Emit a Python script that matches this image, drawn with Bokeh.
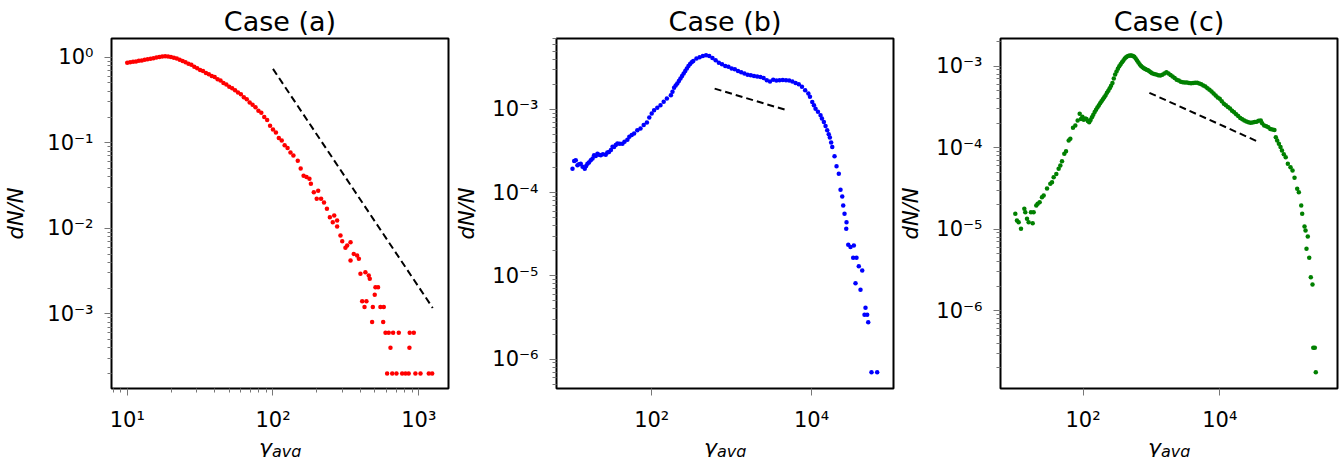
import numpy as np
from bokeh.plotting import figure
from bokeh.layouts import row, column
from bokeh.models import Range1d, FixedTicker, Label, CustomJSTickFormatter
from bokeh.embed import file_html
from bokeh.resources import INLINE

FONT = "DejaVu Sans"

# ---------------- data (stored as log10) ----------------
# Case (a)
a_log_gamma = [1.00, 1.02, 1.04, 1.06, 1.08, 1.10, 1.12, 1.14, 1.16, 1.18, 1.20, 1.22, 1.24, 1.26,
               1.28, 1.30, 1.32, 1.34, 1.36, 1.38, 1.40, 1.42, 1.44, 1.46, 1.48, 1.50, 1.52, 1.54,
               1.56, 1.58, 1.60, 1.62, 1.64, 1.66, 1.68, 1.70, 1.72, 1.74, 1.76, 1.78, 1.80, 1.82,
               1.84, 1.86, 1.88, 1.90, 1.92, 1.94, 1.96, 1.98, 2.00, 2.02, 2.04, 2.06, 2.08, 2.10,
               2.12, 2.14, 2.17, 2.19, 2.21, 2.23, 2.25, 2.26, 2.28, 2.30, 2.31, 2.33, 2.35, 2.37,
               2.39, 2.42, 2.44, 2.41, 2.44, 2.463, 2.475, 2.509, 2.532, 2.497, 2.532, 2.554, 2.577,
               2.589, 2.600, 2.634, 2.657, 2.664, 2.703, 2.721, 2.698, 2.612, 2.641, 2.628, 2.685,
               2.737, 2.760, 2.680, 2.756, 2.772, 2.794, 2.824, 2.863, 2.938, 2.966, 2.806, 2.936,
               2.783, 2.818, 2.847, 2.886, 2.909, 2.931, 2.977, 3.012, 3.069, 3.092]
a_log_dndn = [-0.065, -0.060, -0.052, -0.050, -0.040, -0.038, -0.028, -0.025, -0.018, -0.012, -0.004,
              0.003, 0.008, 0.012, 0.010, 0.004, -0.006, -0.016, -0.030, -0.045, -0.058, -0.075,
              -0.088, -0.110, -0.128, -0.150, -0.162, -0.185, -0.198, -0.220, -0.232, -0.258,
              -0.272, -0.300, -0.318, -0.345, -0.362, -0.385, -0.412, -0.432, -0.468, -0.490,
              -0.528, -0.555, -0.585, -0.625, -0.650, -0.700, -0.735, -0.800, -0.845, -0.880,
              -0.945, -0.975, -1.030, -1.060, -1.115, -1.150, -1.210, -1.300, -1.385, -1.400,
              -1.420, -1.480, -1.580, -1.656, -1.560, -1.656, -1.700, -1.773, -1.871, -1.851,
              -1.910, -1.930, -1.980, -2.085, -2.152, -2.202, -2.164, -2.229, -2.378, -2.300,
              -2.320, -2.358, -2.533, -2.515, -2.553, -2.590, -2.690, -2.690, -2.779, -2.854,
              -2.854, -2.921, -2.921, -2.921, -2.921, -3.097, -3.097, -3.222, -3.222, -3.222,
              -3.222, -3.222, -3.222, -3.398, -3.398, -3.699, -3.699, -3.699, -3.699, -3.699,
              -3.699, -3.699, -3.699, -3.699, -3.699]
a_fit_gamma = [100, 1247]
a_fit_dndn = [0.73, 1.17e-3]

# Case (b)
b_log_gamma = [1.009, 1.03, 1.05, 1.071, 1.09, 1.1125, 1.135, 1.1625, 1.18, 1.196, 1.215, 1.2375,
               1.26, 1.279, 1.30, 1.321, 1.34, 1.3625, 1.39, 1.425, 1.445, 1.466, 1.49, 1.51, 1.529,
               1.55, 1.571, 1.60, 1.634, 1.66, 1.696, 1.72, 1.75, 1.78, 1.82, 1.86, 1.90, 1.94,
               1.97, 2.00, 2.03, 2.07, 2.11, 2.15, 2.19, 2.24, 2.26, 2.28, 2.30, 2.32, 2.34, 2.36,
               2.38, 2.40, 2.42, 2.44, 2.46, 2.48, 2.50, 2.52, 2.56, 2.60, 2.64, 2.68, 2.72, 2.76,
               2.80, 2.84, 2.88, 2.92, 2.96, 3.00, 3.04, 3.08, 3.12, 3.16, 3.20, 3.24, 3.28, 3.32,
               3.36, 3.40, 3.44, 3.48, 3.52, 3.56, 3.60, 3.64, 3.68, 3.72, 3.76, 3.80, 3.84, 3.88,
               3.92, 3.96, 3.98, 4.009, 4.03, 4.05, 4.08, 4.1125, 4.13, 4.154, 4.175, 4.196, 4.215,
               4.229, 4.245, 4.259, 4.2875, 4.3125, 4.341, 4.3625, 4.384, 4.396, 4.4125, 4.4375,
               4.434, 4.459, 4.4875, 4.529, 4.521, 4.5625, 4.591, 4.634, 4.55, 4.6125, 4.675,
               4.6625, 4.696, 4.709, 4.75, 4.821]
b_log_dndn = [-3.713, -3.62, -3.613, -3.673, -3.66, -3.653, -3.69, -3.713, -3.68, -3.653, -3.64,
              -3.613, -3.59, -3.553, -3.56, -3.533, -3.545, -3.553, -3.54, -3.545, -3.52, -3.513,
              -3.49, -3.45, -3.453, -3.43, -3.412, -3.415, -3.415, -3.39, -3.365, -3.33, -3.31,
              -3.29, -3.252, -3.23, -3.19, -3.16, -3.10, -3.05, -3.012, -2.98, -2.952, -2.91,
              -2.87, -2.832, -2.79, -2.74, -2.715, -2.69, -2.66, -2.63, -2.60, -2.571, -2.54,
              -2.51, -2.48, -2.455, -2.435, -2.42, -2.39, -2.375, -2.36, -2.351, -2.36, -2.385,
              -2.41, -2.44, -2.46, -2.48, -2.49, -2.51, -2.52, -2.54, -2.555, -2.57, -2.585,
              -2.59, -2.60, -2.605, -2.612, -2.625, -2.65, -2.665, -2.645, -2.655, -2.65, -2.648,
              -2.65, -2.655, -2.665, -2.685, -2.70, -2.73, -2.77, -2.81, -2.85, -2.912, -2.95,
              -2.992, -3.03, -3.072, -3.11, -3.153, -3.20, -3.252, -3.30, -3.34, -3.40, -3.453,
              -3.565, -3.685, -3.773, -3.965, -4.046, -4.154, -4.255, -4.356, -4.434, -4.626,
              -4.655, -4.635, -4.782, -4.782, -4.885, -4.935, -5.088, -5.167, -5.383, -5.468,
              -5.468, -5.556, -6.157, -6.157]
b_fit_gamma = [613, 4970]
b_fit_dndn = [1.77e-3, 9.7e-4]

# Case (c)
c_log_gamma = [1.009, 1.033, 1.058, 1.092, 1.141, 1.155, 1.18, 1.204, 1.263, 1.238, 1.277, 1.316,
               1.336, 1.365, 1.399, 1.424, 1.473, 1.521, 1.546, 1.57, 1.609, 1.643, 1.668, 1.692,
               1.726, 1.751, 1.79, 1.814, 1.853, 1.887, 1.921, 1.951, 1.97,
               1.99, 2.01, 2.03, 2.05, 2.07, 2.09, 2.11, 2.13, 2.15, 2.17, 2.19, 2.21, 2.23, 2.25,
               2.27, 2.29, 2.31, 2.33, 2.35, 2.37, 2.39, 2.41, 2.43, 2.45, 2.47, 2.49, 2.51, 2.53,
               2.55, 2.57, 2.59, 2.61, 2.63, 2.65, 2.67, 2.69, 2.71, 2.73, 2.75, 2.77, 2.79, 2.81,
               2.83, 2.85, 2.87, 2.89, 2.91, 2.93, 2.95, 2.97, 2.99, 3.01, 3.04, 3.07, 3.10, 3.13,
               3.16, 3.19, 3.22, 3.25, 3.28, 3.31, 3.34, 3.37, 3.40, 3.43, 3.46, 3.49, 3.52, 3.55,
               3.58, 3.61, 3.64, 3.67, 3.70, 3.73, 3.76, 3.79, 3.82, 3.85, 3.88, 3.91, 3.94, 3.97,
               4.00, 4.03, 4.06, 4.09, 4.12, 4.15, 4.18, 4.21, 4.24, 4.27, 4.30, 4.33, 4.36, 4.39,
               4.42, 4.45, 4.48, 4.51, 4.54, 4.57, 4.60, 4.62, 4.65, 4.68, 4.71, 4.74, 4.77, 4.80,
               4.82, 4.84, 4.865, 4.889, 4.91, 4.937, 4.965, 4.996, 5.035, 5.065, 5.094, 5.133,
               5.157, 5.192, 5.206, 5.24, 5.255, 5.288, 5.269, 5.309, 5.332, 5.357, 5.368, 5.391,
               5.405, 5.42]
c_log_dndn = [-4.811, -4.893, -4.914, -4.995, -4.75, -4.791, -4.873, -4.914, -4.926, -4.791, -4.791,
              -4.709, -4.689, -4.668, -4.607, -4.586, -4.50, -4.443, -4.423, -4.362, -4.321, -4.259,
              -4.218, -4.165, -4.075, -4.043, -3.912, -3.891, -3.756, -3.728, -3.666, -3.584,
              -3.646,
              -3.62, -3.658, -3.64, -3.646, -3.672, -3.687, -3.66, -3.625, -3.595, -3.56, -3.535,
              -3.505, -3.482, -3.455, -3.43, -3.405, -3.38, -3.355, -3.325, -3.30, -3.27, -3.24,
              -3.205, -3.15, -3.10, -3.065, -3.03, -3.00, -2.975, -2.951, -2.93, -2.905, -2.89,
              -2.878, -2.872, -2.869, -2.868, -2.874, -2.885, -2.905, -2.93, -2.955, -2.98,
              -2.998, -3.012, -3.025, -3.035, -3.044, -3.05, -3.062, -3.075, -3.085, -3.094,
              -3.102, -3.110, -3.114, -3.105, -3.09, -3.073, -3.09, -3.106, -3.125, -3.145,
              -3.165, -3.175, -3.19, -3.195, -3.198, -3.20, -3.206, -3.21, -3.205, -3.202,
              -3.204, -3.212, -3.222, -3.237, -3.25, -3.27, -3.29, -3.31, -3.335, -3.36, -3.385,
              -3.40, -3.43, -3.46, -3.48, -3.50, -3.52, -3.545, -3.565, -3.59, -3.61, -3.635,
              -3.65, -3.665, -3.678, -3.687, -3.692, -3.69, -3.685, -3.68, -3.668, -3.666, -3.70,
              -3.728, -3.735, -3.75, -3.77, -3.775, -3.782, -3.871, -3.91, -3.952, -3.99, -4.034,
              -4.08, -4.117, -4.198, -4.24, -4.28, -4.369, -4.504, -4.546, -4.709, -4.811, -4.967,
              -5.016, -5.09, -5.24, -5.35, -5.589, -5.678, -6.455, -6.455, -6.755]
c_fit_gamma = [935, 36000]
c_fit_dndn = [4.72e-4, 1.19e-4]

titles = ["Case (a)", "Case (b)", "Case (c)"]
colors = ["#ff0000", "#0000ff", "#008000"]
x_ranges = [(7.8, 1600), (6.44, 1.06e5), (6.2, 5.28e5)]
y_ranges = [(1.337e-4, 1.656), (4.44e-7, 7.08e-3), (1.11e-7, 2.19e-3)]
x_major = [[10, 100, 1000], [100, 10000], [100, 10000]]
y_major = [[1e-3, 1e-2, 1e-1, 1], [1e-6, 1e-5, 1e-4, 1e-3], [1e-6, 1e-5, 1e-4, 1e-3]]

# layout geometry (pixels)
FRAME_W, FRAME_H = 337, 350
BORDER_L = [111, 106, 105]
BORDER_R = [2, 2, 5]
YLABEL_STANDOFF = [16, 10, 10]
TOP, BOTTOM = 38, 60          # main figures: 38 + 350 + 60 = 448 px tall
LABEL_H = 50                  # x-label strip, pulled up so it ends at 457 px
LABEL_OVERLAP = 41

POW_FMT = CustomJSTickFormatter(code="""
const e = Math.round(Math.log10(tick));
const sup = {'0':'\u2070','1':'\u00b9','2':'\u00b2','3':'\u00b3','4':'\u2074','5':'\u2075',
             '6':'\u2076','7':'\u2077','8':'\u2078','9':'\u2079','-':'\u207b'};
return '10' + String(e).split('').map(c => sup[c]).join('');
""")


def minors(lo, hi, e0, e1):
    out = []
    for e in range(e0, e1 + 1):
        for m in range(2, 10):
            v = m * 10.0 ** e
            if lo < v < hi:
                out.append(v)
    return out


def panel(i, lg, ld, fg, fd, xminor):
    xr, yr = x_ranges[i], y_ranges[i]
    p = figure(x_axis_type="log", y_axis_type="log",
               x_range=Range1d(*xr), y_range=Range1d(*yr),
               frame_width=FRAME_W, frame_height=FRAME_H,
               min_border_left=BORDER_L[i], min_border_right=BORDER_R[i],
               min_border_top=TOP, min_border_bottom=BOTTOM,
               output_backend="svg", toolbar_location=None, title=titles[i])
    p.outline_line_color = "black"
    p.outline_line_width = 2
    p.grid.visible = False
    p.background_fill_color = "white"
    p.border_fill_color = "white"

    p.title.text_font = FONT
    p.title.text_font_size = "27px"
    p.title.text_font_style = "normal"
    p.title.text_color = "black"
    p.title.align = "center"
    p.title.standoff = 4

    xm = minors(*xr, -1, 6) if xminor else []
    p.xaxis.ticker = FixedTicker(ticks=x_major[i], minor_ticks=xm)
    p.yaxis.ticker = FixedTicker(ticks=y_major[i], minor_ticks=minors(*yr, -8, 1))
    for ax in (p.xaxis, p.yaxis):
        ax.formatter = POW_FMT
        ax.axis_line_color = None
        ax.major_tick_out = 7
        ax.major_tick_in = 0
        ax.minor_tick_out = 4
        ax.minor_tick_in = 0
        ax.major_tick_line_color = "#777777"
        ax.minor_tick_line_color = "#777777"
        ax.major_label_text_font = FONT
        ax.major_label_text_font_size = "21px"
        ax.major_label_text_color = "black"
    p.xaxis.major_label_standoff = 12
    p.yaxis.major_label_standoff = 11

    p.yaxis.axis_label = "dN/N"
    p.yaxis.axis_label_text_font = FONT
    p.yaxis.axis_label_text_font_size = "21px"
    p.yaxis.axis_label_text_font_style = "italic"
    p.yaxis.axis_label_text_color = "black"
    p.yaxis.axis_label_standoff = YLABEL_STANDOFF[i]

    xs = 10.0 ** np.array(lg)
    ys = 10.0 ** np.array(ld)
    p.scatter(xs, ys, size=4.5, fill_color=colors[i], line_color=None)
    p.line(fg, fd, line_color="black", line_width=2, line_dash="7 4")
    return p


def xlabel_strip(i):
    w = BORDER_L[i] + FRAME_W + BORDER_R[i]
    s = figure(width=w, height=LABEL_H, x_range=Range1d(0, w), y_range=Range1d(0, LABEL_H),
               min_border=0, x_axis_location=None, y_axis_location=None,
               output_backend="svg", toolbar_location=None)
    s.outline_line_color = None
    s.background_fill_color = None
    s.border_fill_color = None
    s.grid.visible = False
    cx = BORDER_L[i] + FRAME_W / 2
    s.add_layout(Label(x=cx - 21, y=10, x_units="screen", y_units="screen", text="γ",
                       text_font=FONT, text_font_size="22px", text_font_style="italic",
                       text_color="black", text_baseline="alphabetic", text_align="left"))
    s.add_layout(Label(x=cx - 8, y=6, x_units="screen", y_units="screen", text="avg",
                       text_font=FONT, text_font_size="16px", text_font_style="italic",
                       text_color="black", text_baseline="alphabetic", text_align="left"))
    return s


pa = panel(0, a_log_gamma, a_log_dndn, a_fit_gamma, a_fit_dndn, True)
pb = panel(1, b_log_gamma, b_log_dndn, b_fit_gamma, b_fit_dndn, False)
pc = panel(2, c_log_gamma, c_log_dndn, c_fit_gamma, c_fit_dndn, False)

strips = row(xlabel_strip(0), xlabel_strip(1), xlabel_strip(2),
             margin=(-LABEL_OVERLAP, 0, 0, 0))
layout = column(row(pa, pb, pc), strips)
open("out.html", "w").write(file_html(layout, INLINE))
